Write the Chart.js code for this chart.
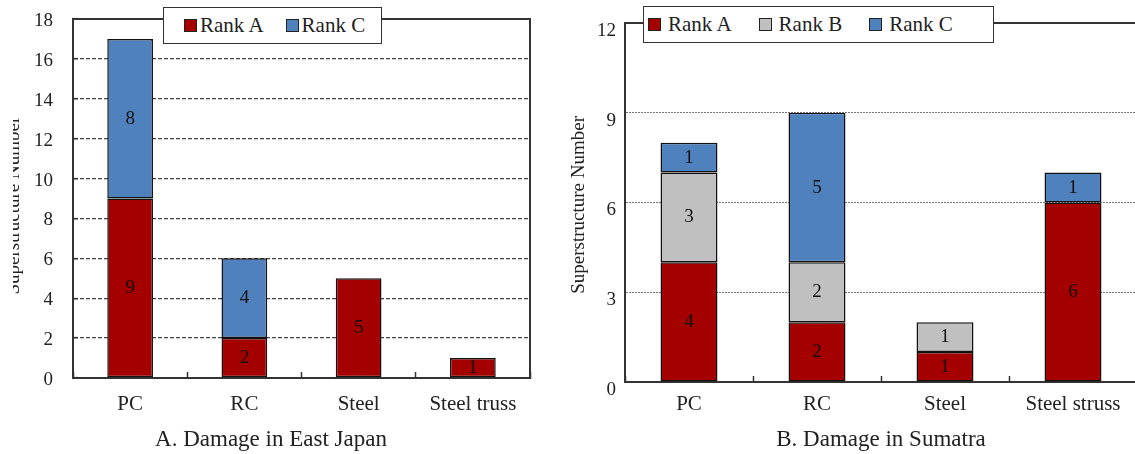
<!DOCTYPE html>
<html>
<head>
<meta charset="utf-8">
<script src="https://cdn.jsdelivr.net/npm/chart.js@4.4.1/dist/chart.umd.min.js"></script>
<style>
  html, body { margin: 0; padding: 0; background: #fff; }
  body { width: 1135px; height: 454px; overflow: hidden; position: relative;
         font-family: "Liberation Serif", "Times New Roman", Times, "DejaVu Serif", serif; }
  .clip { position: absolute; top: 0; height: 454px; overflow: hidden; }
  .box { position: absolute; top: 0; height: 454px; }
  .legend { position: absolute; display: flex; align-items: center; background: #fff; border: 1.5px solid #333;
            box-sizing: border-box; font-size: 21px; color: #222; white-space: nowrap; }
  .legend .sw { display: inline-block; width: 13px; height: 13px; border: 1px solid #222; box-sizing: border-box; }
  .legend .item { display: flex; align-items: center; }
</style>
</head>
<body>
<div class="clip" style="left:13px;width:547px">
  <div class="box" style="left:-13px;width:560px"><canvas id="chartA"></canvas></div>
</div>
<div class="clip" style="left:560px;width:575px">
  <div class="box" style="left:0;width:600px"><canvas id="chartB"></canvas></div>
</div>
<div class="legend" id="legendA" style="left:163px;top:7px;width:219px;height:37px;padding-left:20px"></div>
<div class="legend" id="legendB" style="left:643px;top:6px;width:351px;height:37px;padding-left:4px"></div>

<script>
// data: A. East Japan
const categoriesA = ['PC', 'RC', 'Steel', 'Steel truss'];
const japanRankA = [9, 2, 5, 1];
const japanRankC = [8, 4, 0, 0];
const ticksA = [0, 2, 4, 6, 8, 10, 12, 14, 16, 18];

// data: B. Sumatra
const categoriesB = ['PC', 'RC', 'Steel', 'Steel struss'];
const sumatraRankA = [4, 2, 1, 6];
const sumatraRankB = [3, 2, 1, 0];
const sumatraRankC = [1, 5, 0, 1];
const ticksB = [0, 3, 6, 9, 12];

const RED = '#A50000';
const GREY = '#C0C0C0';
const BLUE = '#4F81BD';
const SERIF = '"Liberation Serif", "Times New Roman", Times, "DejaVu Serif", serif';

Chart.defaults.font.family = SERIF;
Chart.defaults.color = '#222';

// top/right frame lines of the plot
const framePlugin = {
    id: 'frame',
    beforeDatasetsDraw(chart, args, opts) {
        const { ctx, chartArea: a } = chart;
        ctx.save();
        ctx.strokeStyle = '#333';
        ctx.lineWidth = 2;
        ctx.beginPath();
        if (opts.top) { ctx.moveTo(a.left - 1, a.top); ctx.lineTo(a.right, a.top); }
        if (opts.right) { ctx.moveTo(a.right, a.top - 1); ctx.lineTo(a.right, a.bottom + 1); }
        ctx.stroke();
        ctx.restore();
    }
};

// numbers inside each stacked segment
const segmentLabels = {
    id: 'segmentLabels',
    afterDatasetsDraw(chart) {
        const ctx = chart.ctx;
        ctx.save();
        ctx.font = '19px ' + SERIF;
        ctx.fillStyle = '#111';
        ctx.textAlign = 'center';
        ctx.textBaseline = 'middle';
        chart.data.datasets.forEach((ds, i) => {
            chart.getDatasetMeta(i).data.forEach((bar, j) => {
                const v = ds.data[j];
                if (!v) return;
                const p = bar.getProps(['x', 'y', 'base'], true);
                ctx.fillText(String(v), p.x, (p.y + p.base) / 2);
            });
        });
        ctx.restore();
    }
};

// html legend built from the chart's datasets
const htmlLegend = {
    id: 'htmlLegend',
    afterUpdate(chart, args, opts) {
        const el = document.getElementById(opts.containerID);
        el.innerHTML = '';
        const items = chart.options.plugins.legend.labels.generateLabels(chart);
        items.forEach((item, i) => {
            const div = document.createElement('div');
            div.className = 'item';
            if (i > 0) div.style.marginLeft = opts.itemGap + 'px';
            div.innerHTML = `<span class="sw" style="background:${item.fillStyle}"></span>` +
                `<span style="margin-left:${opts.textGap}px">${item.text}</span>`;
            el.appendChild(div);
        });
    }
};

function makeDataset(label, data, color) {
    return {
        label: label,
        data: data,
        backgroundColor: color,
        borderColor: '#111',
        borderWidth: 1.5,
        borderSkipped: false
    };
}

// fixed axis sizes so the plot areas land where the reference has them
function fixWidth(w) {
    return s => { s.width = w; s.paddingTop = 0; s.paddingBottom = 0; };
}
function fixHeight(h) {
    return s => { s.height = h; s.paddingLeft = 0; s.paddingRight = 0; };
}

new Chart(document.getElementById('chartA'), {
    type: 'bar',
    data: {
        labels: categoriesA,
        datasets: [
            makeDataset('Rank A', japanRankA, RED),
            makeDataset('Rank C', japanRankC, BLUE)
        ]
    },
    options: {
        responsive: true,
        maintainAspectRatio: false,
        animation: false,
        events: [],
        layout: { padding: { left: 12, right: 30, top: 19, bottom: 0.6 } },
        datasets: { bar: { categoryPercentage: 1, barPercentage: 0.4 } },
        scales: {
            x: {
                stacked: true,
                afterFit: fixHeight(47.8),
                border: { color: '#333', width: 2 },
                grid: { drawOnChartArea: false, tickLength: -6, tickColor: '#333', tickWidth: 1.5 },
                ticks: { font: { size: 21 }, padding: 20, color: '#222' }
            },
            y: {
                stacked: true,
                min: 0,
                max: 18,
                afterBuildTicks: s => { s.ticks = ticksA.map(v => ({ value: v })); },
                afterFit: fixWidth(61),
                border: { color: '#333', width: 2, dash: [4, 2] },
                grid: { color: '#444', lineWidth: 1.3, tickLength: -5, tickColor: '#333', tickWidth: 1.5 },
                ticks: { font: { size: 19 }, padding: 25, labelOffset: 2, color: '#222' },
                title: {
                    display: true,
                    text: 'Superstructure Number   ',
                    font: { size: 19 },
                    color: '#222',
                    padding: { top: -9, bottom: 0 }
                }
            }
        },
        plugins: {
            legend: { display: false },
            tooltip: { enabled: false },
            title: {
                display: true,
                position: 'bottom',
                text: 'A. Damage in East Japan',
                font: { size: 23, weight: 'normal' },
                color: '#222',
                padding: { top: 0, bottom: 0 }
            },
            frame: { top: true, right: true },
            htmlLegend: { containerID: 'legendA', textGap: 3, itemGap: 22 }
        }
    },
    plugins: [framePlugin, segmentLabels, htmlLegend]
});

new Chart(document.getElementById('chartB'), {
    type: 'bar',
    data: {
        labels: categoriesB,
        datasets: [
            makeDataset('Rank A', sumatraRankA, RED),
            makeDataset('Rank B', sumatraRankB, GREY),
            makeDataset('Rank C', sumatraRankC, BLUE)
        ]
    },
    options: {
        responsive: true,
        maintainAspectRatio: false,
        animation: false,
        events: [],
        layout: { padding: { left: 0, right: 23, top: 23, bottom: 0 } },
        datasets: { bar: { categoryPercentage: 1, barPercentage: 0.445 } },
        scales: {
            x: {
                stacked: true,
                afterFit: fixHeight(72),
                border: { color: '#333', width: 2 },
                grid: { drawOnChartArea: false, tickLength: -6, tickColor: '#333', tickWidth: 1.5 },
                ticks: { font: { size: 21 }, padding: 16, color: '#222' },
                title: {
                    display: true,
                    text: 'B. Damage in Sumatra',
                    font: { size: 23 },
                    color: '#222',
                    padding: { top: 0, bottom: 0.2 }
                }
            },
            y: {
                stacked: true,
                min: 0,
                max: 12,
                afterBuildTicks: s => { s.ticks = ticksB.map(v => ({ value: v })); },
                afterFit: fixWidth(65),
                border: { color: '#333', width: 2, dash: [2, 1] },
                grid: { color: '#777', lineWidth: 1, drawTicks: false },
                ticks: { font: { size: 19 }, padding: 9, labelOffset: 8, color: '#222' },
                title: {
                    display: true,
                    text: 'Superstructure Number ',
                    font: { size: 19 },
                    color: '#222',
                    padding: { top: 7.5, bottom: 0 }
                }
            }
        },
        plugins: {
            legend: { display: false },
            tooltip: { enabled: false },
            frame: { top: true, right: false },
            htmlLegend: { containerID: 'legendB', textGap: 7, itemGap: 27 }
        }
    },
    plugins: [framePlugin, segmentLabels, htmlLegend]
});
</script>
</body>
</html>
